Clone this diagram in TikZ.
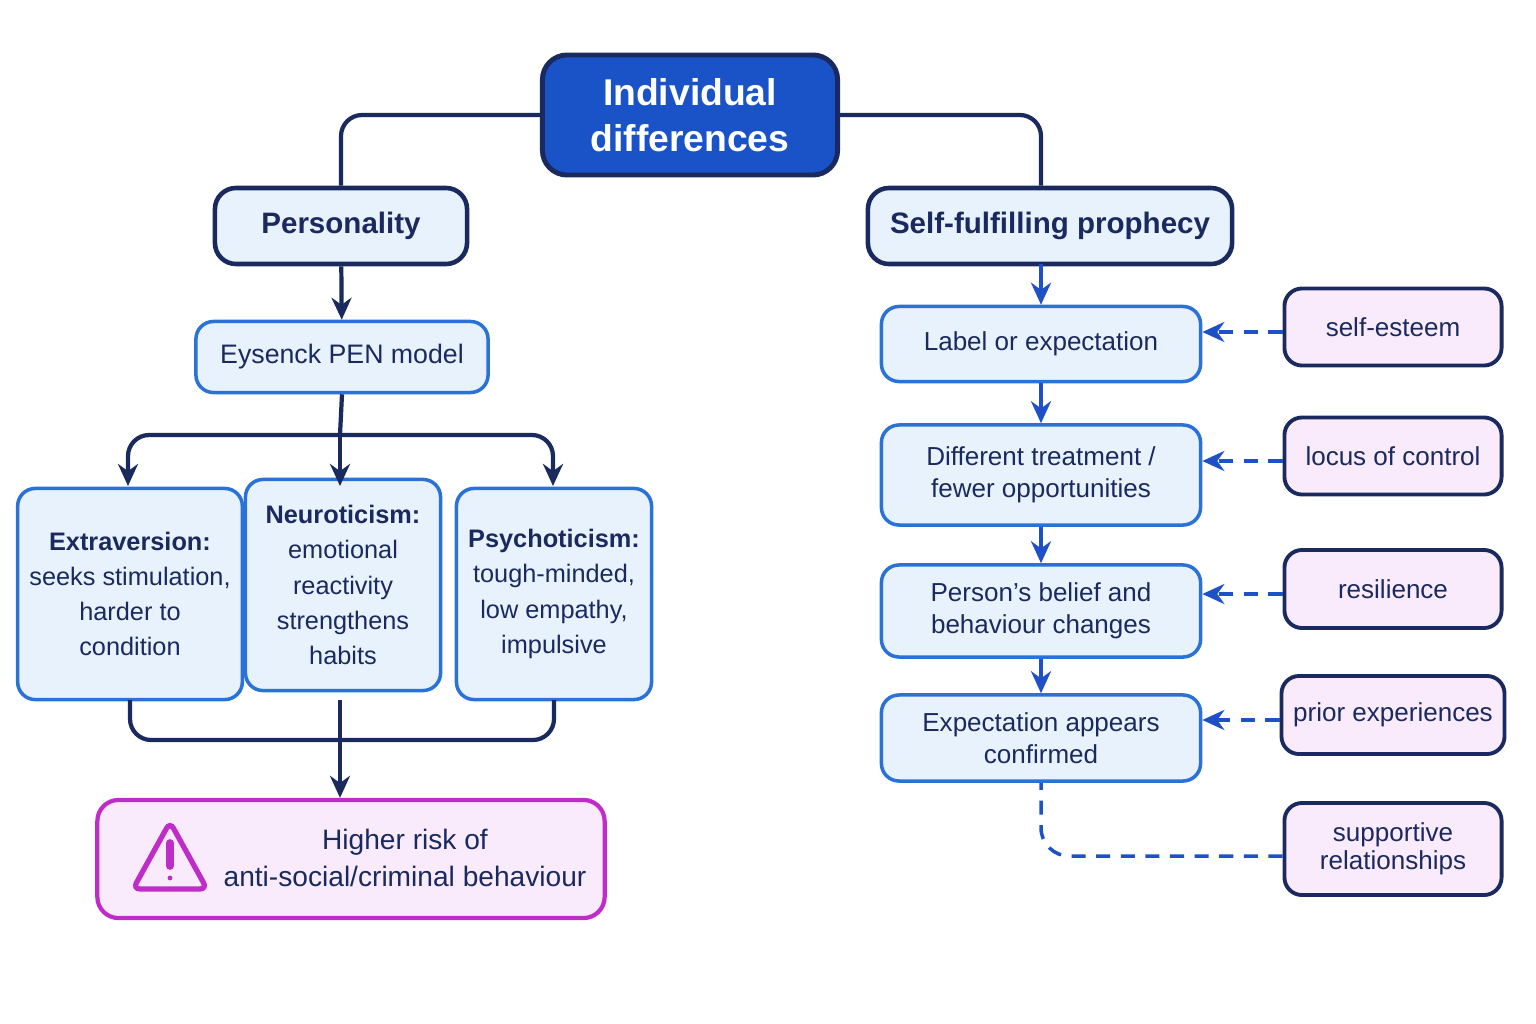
\documentclass[tikz,border=0pt]{standalone}
\usepackage{fontspec}
\setmainfont{Liberation Sans}
\usetikzlibrary{arrows.meta}
\usetikzlibrary{calc}
\definecolor{navy}{HTML}{1A2A5E}
\definecolor{topblue}{HTML}{1A52C8}
\definecolor{midblue}{HTML}{2A72D8}
\definecolor{paleblue}{HTML}{E8F2FD}
\definecolor{purp}{HTML}{C02CC8}
\definecolor{palepurp}{HTML}{F9EBFB}
\definecolor{dashblue}{HTML}{1E50C8}
\tikzset{
  headbox/.style={draw=navy, line width=1.3pt, fill=paleblue, rounded corners=6pt, text=navy, font=\bfseries\fontsize{8.4}{10}\selectfont, align=center, minimum height=0.76cm},
  stagebox/.style={draw=midblue, line width=1pt, fill=paleblue, rounded corners=5pt, text=navy, font=\fontsize{7.4}{9}\selectfont, align=center, minimum width=3.19cm},
  factorbox/.style={draw=navy, line width=1.1pt, fill=palepurp, rounded corners=5pt, text=navy, font=\fontsize{7.4}{8.6}\selectfont, align=center, minimum width=2.17cm},
  traitbox/.style={stagebox, minimum height=2.11cm, font=\fontsize{7.2}{10}\selectfont},
  link/.style={navy, line width=1.2pt, rounded corners=6pt},
  arr/.style={-{Stealth[length=2.2mm,width=2mm]}},
  dlink/.style={dashblue, line width=1pt, dash pattern=on 4pt off 3pt},
}
\begin{document}
\begin{tikzpicture}[x=0.01cm, y=-0.01cm]
    \useasboundingbox (0,0) rectangle (1536,1024);
    % top and the two branches
    \node[draw=navy, line width=1.4pt, fill=topblue, rounded corners=7pt, text=white, font=\bfseries\fontsize{10.6}{13}\selectfont, align=center, minimum width=2.95cm, minimum height=1.2cm] (top) at (690,115) {Individual\\differences};
    \node[headbox, minimum width=2.52cm] (pers) at (341,226) {Personality};
    \node[headbox, minimum width=3.64cm] (sfp) at (1050,226) {Self-fulfilling prophecy};
    \draw[link] (top.west) -| (pers.north);
    \draw[link] (top.east) -| (sfp.north -| 1041,0);

    % personality side
    \node[stagebox, minimum width=2.92cm, minimum height=0.71cm, font=\fontsize{7.6}{9}\selectfont] (pen) at (342,357) {Eysenck PEN model};
    \draw[link, arr] (pers) -- (pen);
    \node[traitbox, minimum width=2.0cm] (extra) at (130,594) {\textbf{Extraversion:}\\seeks stimulation,\\harder to\\condition};
    \node[traitbox, minimum width=1.95cm] (neuro) at (343,585) {\textbf{Neuroticism:}\\emotional\\reactivity\\strengthens\\habits};
    \node[traitbox, minimum width=1.95cm] (psych) at (554,594) {\textbf{Psychoticism:}\\tough-minded,\\low empathy,\\impulsive};
    \draw[link] (pen.south) -- (340,435) coordinate (split);
    \draw[link, arr] (split) -| (128,486);
    \draw[link, arr] (split) -| (553,486);
    \draw[link, arr] (split) -- (340,486);
    \node[draw=purp, line width=1.2pt, fill=palepurp, rounded corners=6pt, minimum width=5.07cm, minimum height=1.18cm] (risk) at (351,859) {};
    \node[text=navy, font=\fontsize{8}{10.5}\selectfont, align=center] (risktext) at (405,858) {Higher risk of\\anti-social/criminal behaviour};
    \draw[purp, line width=1.5pt, rounded corners=2pt] (170,822) -- (207,889) -- (133,889) -- cycle;
    \draw[purp, line width=2.2pt, line cap=round] (170,843) -- (170,866);
    \fill[purp] (170,878) circle (2.4);
    \draw[link] (130,700) |- (340,740) coordinate (join);
    \draw[link] (554,700) |- (join);
    \draw[link, arr] (340,700) -- (risk.north -| 340,0);

    % prophecy chain
    \node[stagebox, minimum height=0.75cm] (label) at (1041,344) {Label or expectation};
    \node[stagebox, minimum height=1.0cm] (treat) at (1041,475) {Different treatment /\\fewer opportunities};
    \node[stagebox, minimum height=0.92cm] (belief) at (1041,611) {Person's belief and\\behaviour changes};
    \node[stagebox, minimum height=0.86cm] (confirm) at (1041,738) {Expectation appears\\confirmed};
    \draw[dashblue, line width=1.2pt, arr] (1041,264) -- (label.north);
    \draw[dashblue, line width=1.2pt, arr] (label) -- (treat);
    \draw[dashblue, line width=1.2pt, arr] (treat) -- (belief);
    \draw[dashblue, line width=1.2pt, arr] (belief) -- (confirm);

    % moderating factors
    \node[factorbox, minimum height=0.77cm] (esteem) at (1393,327) {self-esteem};
    \node[factorbox, minimum height=0.77cm] (locus) at (1393,456) {locus of control};
    \node[factorbox, minimum height=0.78cm] (resil) at (1393,589) {resilience};
    \node[factorbox, minimum height=0.78cm] (prior) at (1393,715) {prior experiences};
    \node[factorbox, minimum height=0.92cm, font=\fontsize{7.4}{8}\selectfont] (support) at (1393,849) {supportive\\relationships};
    \draw[dlink, arr] (esteem.west |- 0,332) -- (label.east |- 0,332);
    \draw[dlink, arr] (locus.west |- 0,461) -- (treat.east |- 0,461);
    \draw[dlink, arr] (resil.west |- 0,594) -- (belief.east |- 0,594);
    \draw[dlink, arr] (prior.west |- 0,720) -- (confirm.east |- 0,720);
    \draw[dlink, rounded corners=8pt] (support.west |- 0,856) -| (confirm.south);
\end{tikzpicture}
\end{document}
